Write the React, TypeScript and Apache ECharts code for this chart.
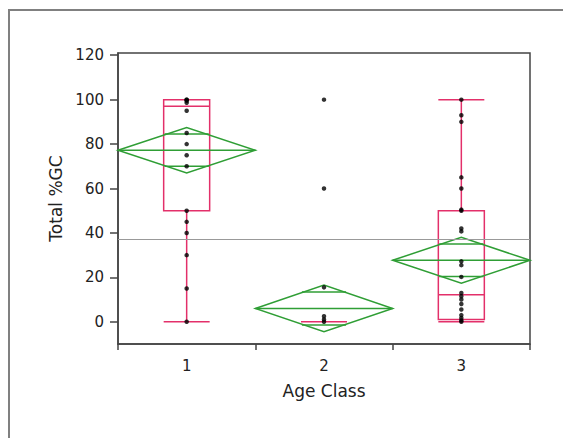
import React, { useEffect, useRef } from "react";
import * as echarts from "echarts";

const categories = ["1", "2", "3"];
const yTicks = [0, 20, 40, 60, 80, 100, 120];

// box stats: [min, Q1, median, Q3, max]
const boxStats = [
  [0, 50, 97, 100, 100],
  [0, 0, 0, 0, 0],
  [0, 1, 12.2, 50, 100],
];

const group1Points = [100, 100, 99.5, 98.6, 95, 85, 80, 75, 70, 50, 45, 40, 30, 15, 0];
const group2Points = [100, 60, 15.5, 2.5, 1, 0];
const group3Points = [100, 93, 90, 65, 60, 50.5, 50, 42, 40.7, 27.2, 25.5, 20.2, 13, 11.5, 10, 8, 5.5, 3, 1.7, 0.6, 0];

// means diamonds: [category index, mean, lower 95%, upper 95%]
const meanDiamonds = [
  [0, 77.2, 67, 87.5],
  [1, 6, -4.5, 16.5],
  [2, 27.7, 17.4, 38],
];

const grandMean = 37;

export default function App() {
  const ref = useRef<HTMLDivElement>(null);
  useEffect(() => {
    if (!ref.current) return;
    const chart = echarts.init(ref.current, null, { renderer: "svg" });
    const points: number[][] = [];
    [group1Points, group2Points, group3Points].forEach((arr, i) =>
      arr.forEach((v) => points.push([i, v]))
    );
    const font = "DejaVu Sans";
    const red = "#e3306a";
    const green = "#2f9e35";
    chart.setOption({
      animation: false,
      graphic: [
        {
          type: "rect",
          shape: { x: 9, y: 10, width: 700, height: 600 },
          style: { fill: "none", stroke: "#808080", lineWidth: 2 },
          silent: true,
        },
      ],
      grid: {
        left: 118,
        top: 53,
        width: 412,
        height: 291,
        show: true,
        borderColor: "#444",
        borderWidth: 1.5,
        backgroundColor: "transparent",
      },
      xAxis: {
        type: "category",
        data: categories,
        name: "Age Class",
        nameLocation: "middle",
        nameGap: 38,
        nameTextStyle: { fontFamily: font, fontSize: 17, color: "#222" },
        axisLine: { onZero: false, lineStyle: { color: "#444", width: 1.5 } },
        axisTick: { show: true, length: 6, lineStyle: { color: "#444", width: 1.5 } },
        axisLabel: { fontFamily: font, fontSize: 15, color: "#222", margin: 14 },
        splitLine: { show: false },
      },
      yAxis: {
        type: "value",
        min: -10,
        max: 121,
        name: "Total %GC",
        nameLocation: "middle",
        nameGap: 45,
        nameTextStyle: { fontFamily: font, fontSize: 17, color: "#222" },
        axisLine: { show: true, lineStyle: { color: "#444", width: 1.5 } },
        axisTick: { show: true, length: 8, customValues: yTicks, lineStyle: { color: "#444", width: 1.5 } },
        axisLabel: { fontFamily: font, fontSize: 15, color: "#222", margin: 14, customValues: yTicks },
        splitLine: { show: false },
      },
      series: [
        {
          type: "boxplot",
          data: boxStats,
          boxWidth: [46, 46],
          itemStyle: { color: "transparent", borderColor: red, borderWidth: 1.5 },
          silent: true,
          z: 2,
        },
        {
          type: "custom",
          data: meanDiamonds,
          silent: true,
          z: 3,
          renderItem: (params: any, api: any) => {
            const ci = api.value(0);
            const mean = api.value(1);
            const lo = api.value(2);
            const hi = api.value(3);
            const c = api.coord([ci, mean]);
            const yHi = api.coord([ci, hi])[1];
            const yLo = api.coord([ci, lo])[1];
            const w = api.size([1, 0])[0];
            const half = w / 2;
            const k = 1 / Math.SQRT2;
            const yOU = c[1] - (c[1] - yHi) * k;
            const yOL = c[1] + (yLo - c[1]) * k;
            const hw = half * (1 - k) + 2;
            const st = { stroke: green, lineWidth: 1.5, fill: "none" };
            return {
              type: "group",
              children: [
                {
                  type: "polygon",
                  shape: {
                    points: [
                      [c[0] - half, c[1]],
                      [c[0], yHi],
                      [c[0] + half, c[1]],
                      [c[0], yLo],
                    ],
                  },
                  style: st,
                },
                { type: "line", shape: { x1: c[0] - half, y1: c[1], x2: c[0] + half, y2: c[1] }, style: st },
                { type: "line", shape: { x1: c[0] - hw, y1: yOU, x2: c[0] + hw, y2: yOU }, style: st },
                { type: "line", shape: { x1: c[0] - hw, y1: yOL, x2: c[0] + hw, y2: yOL }, style: st },
              ],
            };
          },
        },
        {
          type: "scatter",
          data: points,
          symbolSize: 4.5,
          itemStyle: { color: "#000" },
          silent: true,
          z: 4,
          markLine: {
            silent: true,
            symbol: "none",
            label: { show: false },
            lineStyle: { color: "#999", width: 1, type: "solid" },
            data: [{ yAxis: grandMean }],
          },
        },
      ],
    });
    return () => chart.dispose();
  }, []);
  return (
    <div
      ref={ref}
      style={{ position: "fixed", left: 0, top: 0, width: 563, height: 438, background: "#fff" }}
    />
  );
}
